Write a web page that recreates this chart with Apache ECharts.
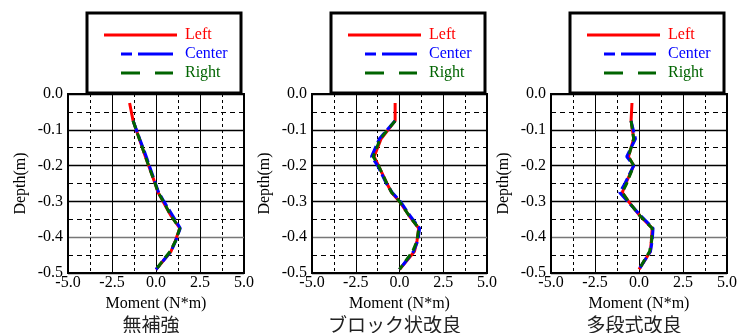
<!DOCTYPE html>
<html>
<head>
<meta charset="utf-8">
<script src="https://cdn.jsdelivr.net/npm/echarts@6/dist/echarts.min.js"></script>
<style>
html,body{margin:0;padding:0;background:#fff;}
#c{width:746px;height:333px;}
</style>
</head>
<body>
<div id="c"></div>
<script>
// ---- data ----
var depth = [-0.025, -0.075, -0.125, -0.175, -0.2, -0.25, -0.275, -0.3, -0.34, -0.375, -0.41, -0.44, -0.49];

var p1Left   = [-1.5, -1.3, -0.95, -0.6, -0.42, -0.05, 0.12, 0.4, 0.85, 1.35, 1.1, 0.85, 0.0];
var p1Center = [null, -1.3, -0.93, -0.55, -0.38, -0.03, 0.15, 0.45, 0.95, 1.38, 1.12, 0.85, 0.0];
var p1Right  = [null, -1.3, -0.95, -0.6, -0.42, -0.05, 0.12, 0.42, 0.85, 1.35, 1.12, 0.8, 0.0];

var p2Left   = [-0.25, -0.25, -1.05, -1.45, -1.2, -0.72, -0.45, 0.0, 0.55, 1.1, 1.0, 0.85, 0.0];
var p2Center = [null, -0.25, -1.15, -1.6, -1.25, -0.75, -0.42, 0.05, 0.6, 1.15, 1.05, 0.8, 0.0];
var p2Right  = [null, -0.25, -1.1, -1.5, -1.2, -0.72, -0.45, 0.0, 0.55, 1.1, 1.0, 0.75, 0.0];

var p3Left   = [-0.4, -0.45, -0.3, -0.6, -0.3, -0.75, -0.95, -0.6, 0.05, 0.75, 0.7, 0.65, 0.0];
var p3Center = [null, -0.45, -0.2, -0.7, -0.3, -0.8, -1.1, -0.65, 0.1, 0.8, 0.75, 0.65, 0.0];
var p3Right  = [null, -0.45, -0.3, -0.6, -0.3, -0.7, -0.95, -0.6, 0.05, 0.75, 0.72, 0.6, 0.0];

var panelTitles = ['無補強', 'ブロック状改良', '多段式改良'];
var seriesNames = ['Left', 'Center', 'Right'];
var xTicks = [-5.0, -2.5, 0.0, 2.5, 5.0];
var yTicks = [-0.5, -0.4, -0.3, -0.2, -0.1, 0.0];
var xName = 'Moment (N*m)';
var yName = 'Depth(m)';

// ---- layout / style ----
var panelData = [[p1Left, p1Center, p1Right], [p2Left, p2Center, p2Right], [p3Left, p3Center, p3Right]];
var gridLefts = [68, 312, 551];
var gridWidths = [176, 175, 176];
var gridTop = 94, gridHeight = 179;
var colors = ['#ff0000', '#0000ff', '#006400'];
var dashes = ['solid', [12, 4], [8, 5]];
var serif = '"Liberation Serif", "Times New Roman", serif';
var fmt = function (v) { return (Math.abs(v) < 1e-9 ? 0 : v).toFixed(1); };

var grids = [], xAxes = [], yAxes = [], series = [], graphics = [];
for (var p = 0; p < 3; p++) {
  grids.push({ left: gridLefts[p], top: gridTop, width: gridWidths[p], height: gridHeight,
    show: true, borderColor: '#000', borderWidth: 2, backgroundColor: 'transparent' });
  xAxes.push({ type: 'value', gridIndex: p, min: xTicks[0], max: xTicks[xTicks.length - 1], interval: 2.5,
    position: 'bottom',
    axisLine: { show: false }, axisTick: { show: false },
    axisLabel: { formatter: fmt, color: '#000', fontFamily: serif, fontSize: 16, margin: 2, showMinLabel: true, showMaxLabel: true },
    splitLine: { show: true, lineStyle: { color: '#000', width: 1 } },
    minorTick: { show: false, splitNumber: 2 },
    minorSplitLine: { show: true, lineStyle: { color: '#000', width: 1, type: [3, 3] } },
    name: xName, nameLocation: 'middle', nameGap: 15,
    nameTextStyle: { color: '#000', fontFamily: serif, fontSize: 16 } });
  yAxes.push({ type: 'value', gridIndex: p, min: yTicks[0], max: yTicks[yTicks.length - 1], interval: 0.1,
    axisLine: { show: false }, axisTick: { show: false },
    axisLabel: { formatter: fmt, color: '#000', fontFamily: serif, fontSize: 16, margin: 5, showMinLabel: true, showMaxLabel: true },
    splitLine: { show: true, lineStyle: { color: ['#000', '#777', '#000', '#000', '#000', '#000'], width: 1.3 } },
    minorTick: { show: false, splitNumber: 2 },
    minorSplitLine: { show: true, lineStyle: { color: '#000', width: 1, type: [5, 4] } },
    name: yName, nameLocation: 'middle', nameGap: 39,
    nameTextStyle: { color: '#000', fontFamily: serif, fontSize: 16 } });
  for (var s = 0; s < 3; s++) {
    var vals = panelData[p][s], pts = [];
    for (var i = 0; i < depth.length; i++) {
      if (vals[i] !== null) pts.push([vals[i], depth[i]]);
    }
    series.push({ type: 'line', name: seriesNames[s], xAxisIndex: p, yAxisIndex: p, data: pts,
      symbol: 'none', silent: true, animation: false, z: 3 + s,
      lineStyle: { color: colors[s], width: 3, type: dashes[s] } });
  }
  // legend box
  var bx = gridLefts[p] + 19;
  graphics.push({ type: 'rect', shape: { x: bx, y: 13, width: 154, height: 80 },
    style: { fill: '#fff', stroke: '#000', lineWidth: 3 }, z: 10 });
  var lineY = [35, 54, 73];
  var lx0 = [bx + 17, bx + 34, bx + 34], lx1 = [bx + 90, bx + 86, bx + 86];
  var legDash = [null, [11, 6, 35, 0], [19, 15]];
  for (var k = 0; k < 3; k++) {
    graphics.push({ type: 'line', shape: { x1: lx0[k], y1: lineY[k], x2: lx1[k], y2: lineY[k] },
      style: { stroke: colors[k], lineWidth: 3, lineDash: legDash[k] }, z: 11 });
    graphics.push({ type: 'text', x: bx + 98, y: lineY[k],
      style: { text: seriesNames[k], fill: colors[k], font: '16px ' + serif, textVerticalAlign: 'middle', verticalAlign: 'middle' }, z: 11 });
  }
  graphics.push({ type: 'text', x: gridLefts[p] + gridWidths[p] / 2 - 5, y: 325,
    style: { text: panelTitles[p], fill: '#222', font: '19px "Noto Sans CJK JP"', textAlign: 'center', align: 'center', textVerticalAlign: 'middle', verticalAlign: 'middle' }, z: 11 });
}

var chart = echarts.init(document.getElementById('c'), null, { renderer: 'canvas' });
chart.setOption({
  backgroundColor: '#fff',
  animation: false,
  grid: grids, xAxis: xAxes, yAxis: yAxes, series: series,
  graphic: graphics
});
</script>
</body>
</html>
